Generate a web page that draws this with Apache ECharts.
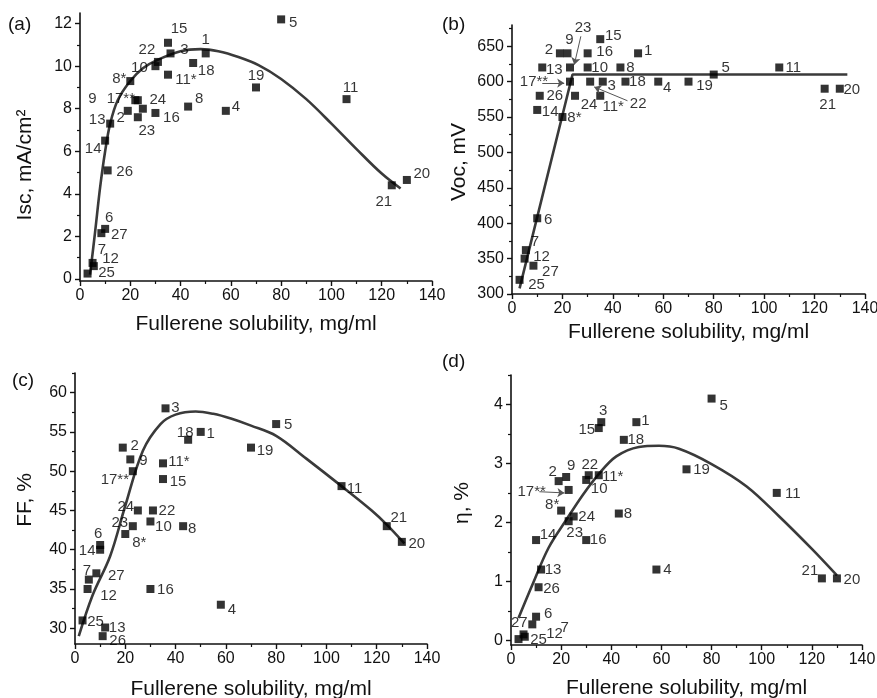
<!DOCTYPE html>
<html><head><meta charset="utf-8">
<script src="https://cdn.jsdelivr.net/npm/echarts@6/dist/echarts.min.js"></script>
<style>html,body{margin:0;padding:0;background:#fff}#c{width:877px;height:698px}</style>
</head><body><div id="c"></div>
<script>
// ---- data ----
const names = ['1','2','3','4','5','6','7','8','8*','9','10','11','11*','12','13','14','15','16','17**','18','19','20','21','22','23','24','25','26','27'];
const solubility = [50,19,36,58,80,10,5.5,43,20,22,30,106,35,5,12,10,35,30,23,45,70,130,124,31,23,25,3,11,8.5];
const isc = [10.6,7.9,10.6,7.9,12.2,2.35,0.6,8.1,9.3,8.4,10.0,8.45,9.6,0.75,7.3,6.5,11.1,7.8,8.4,10.15,9.0,4.65,4.4,10.2,7.6,8.0,0.25,5.1,2.15];
const voc = [640,640,600,600,610,407,362,620,550,640,620,620,580,350,620,560,660,640,600,600,600,590,590,600,620,580,320,580,340];
const ff = [55,53,58,33,56,40.6,36.2,43,42,51.5,43.6,48.1,51,35,30.1,40,49,35,50,54,53,41,43,45,43,45,31,29,37];
const eta = [3.7,2.7,3.7,1.2,4.1,0.4,0.06,2.15,2.2,2.77,2.72,2.5,2.8,0.1,1.2,1.7,3.6,1.7,2.55,3.4,2.9,1.05,1.05,2.8,2.02,2.1,0.02,0.9,0.27];

const fitAx = [4,6,8,10,12,15,20,25,30,40,48,55,63,71,80,90,100,110,120,127.5];
const fitAy = [0.2,2.2,4.3,6.0,7.3,8.4,9.3,9.9,10.25,10.7,10.8,10.7,10.43,10.05,9.4,8.45,7.3,6.1,4.95,4.25];
const fitBx = [3,24,133];
const fitBy = [308,610,610];
const fitCx = [1.5,7,14,20,27,34,40,48,55,62,70,80,92,106,118,124,131];
const fitCy = [29,34.2,39.2,45.6,52.6,56,57.2,57.6,57.3,56.7,55.8,54.5,51.6,48.1,45,43.2,40.8];
const fitDx = [3,8.7,15,22,28.7,35,42,51,59,67,80,94,107,120,130];
const fitDy = [0.38,0.96,1.57,2.04,2.47,2.82,3.12,3.28,3.3,3.25,2.99,2.61,2.1,1.55,1.1];

const xTicks = [0,20,40,60,80,100,120,140];
const xMinor = [10,30,50,70,90,110,130];
const yTicksA = [0,2,4,6,8,10,12];
const yMinorA = [1,3,5,7,9,11];
const yTicksB = [300,350,400,450,500,550,600,650];
const yMinorB = [325,375,425,475,525,575,625,675];
const yTicksC = [30,35,40,45,50,55,60];
const yMinorC = [32.5,37.5,42.5,47.5,52.5,57.5,62.5];
const yTicksD = [0,1,2,3,4];
const yMinorD = [0.5,1.5,2.5,3.5,4.5];

const xTitle = 'Fullerene solubility, mg/ml';
const yTitles = ['Isc, mA/cm\u00b2', 'Voc, mV', 'FF, %', '\u03b7, %'];
const letters = ['(a)', '(b)', '(c)', '(d)'];

// annotation arrows (data coords): [from, to]
const arrowsB = [[[12,598],[20.7,598]],[[27.3,664],[24.7,624]],[[45.8,573],[32.6,592.5]]];
const arrowsD = [[[11.3,2.52],[21.3,2.5]]];

// ---- label placement (style) ----
const offA = {'1':[0,-14],'2':[-7,7],'3':[14,-4],'4':[10,-4],'5':[12,3],'6':[4,-11],'7':[8,-16],'8':[11,-8],'8*':[-11,-2],'9':[-43,-1],'10':[-16,2],'11':[4,-11],'11*':[18,5],'12':[18,-4],'13':[-13,-4],'14':[-12,8],'15':[11,-14],'16':[16,5],'17**':[-17,-1],'18':[13,8],'19':[0,-12],'20':[15,-6],'21':[-8,17],'22':[-11,-12],'23':[9,14],'24':[15,-9],'25':[19,-1],'26':[17,1],'27':[18,2]};
const offB = {'1':[10,-2],'2':[-11,-3],'3':[9,4],'4':[9,6],'5':[12,-7],'6':[11,2],'7':[9,-8],'8':[10,0],'8*':[12,1],'9':[2,-13],'10':[12,0],'11':[14,0],'11*':[13,11],'12':[17,-2],'13':[12,2],'14':[13,2],'15':[13,-3],'16':[17,-1],'17**':[-36,0],'18':[12,0],'19':[16,4],'20':[12,1],'21':[3,16],'22':[48,22],'23':[13,-40],'24':[14,9],'25':[17,5],'26':[15,0],'27':[17,6]};
const offC = {'1':[10,2],'2':[12,-2],'3':[10,0],'4':[11,5],'5':[12,1],'6':[-2,-11],'7':[-2,-9],'8':[9,3],'8*':[14,9],'9':[13,1],'10':[13,5],'11':[13,3],'11*':[16,-1],'12':[21,7],'13':[12,0],'14':[-13,1],'15':[15,3],'16':[15,1],'17**':[-18,9],'18':[-3,-7],'19':[14,3],'20':[15,2],'21':[12,-8],'22':[14,0],'23':[-13,-3],'24':[-12,-4],'25':[13,1],'26':[15,5],'27':[20,3]};
const offD = {'1':[9,-1],'2':[-6,-9],'3':[2,-11],'4':[11,0],'5':[12,7],'6':[12,-3],'7':[40,-9],'8':[9,0],'8*':[-9,-6],'9':[5,-11],'10':[13,9],'11':[16,1],'11*':[14,2],'12':[31,-1],'13':[12,0],'14':[12,-5],'15':[-12,2],'16':[12,0],'17**':[-37,2],'18':[12,0],'19':[15,1],'20':[15,1],'21':[-12,-8],'22':[1,-10],'23':[6,12],'24':[13,0],'25':[20,1],'26':[13,2],'27':[-13,-2]};

const FONT = '"Liberation Sans", Arial, sans-serif';

const panels = [
  {grid:{left:80,top:13,width:352,height:268}, ys:isc, yMin:-0.1, yMax:12.5, yT:yTicksA, yM:yMinorA, fx:fitAx, fy:fitAy, smooth:true, off:offA, xGap:33, yTitlePos:[25,165], lx:8, ly:15, arrows:[]},
  {grid:{left:512,top:25,width:353,height:269}, ys:voc, yMin:300, yMax:680, yT:yTicksB, yM:yMinorB, fx:fitBx, fy:fitBy, smooth:false, off:offB, xGap:28, yTitlePos:[459,162], lx:442, ly:15, arrows:arrowsB},
  {grid:{left:75,top:373,width:352,height:271}, ys:ff, yMin:28, yMax:62.5, yT:yTicksC, yM:yMinorC, fx:fitCx, fy:fitCy, smooth:true, off:offC, xGap:35, yTitlePos:[25,500], lx:12, ly:371, arrows:[]},
  {grid:{left:511,top:375,width:351,height:270}, ys:eta, yMin:-0.08, yMax:4.5, yT:yTicksD, yM:yMinorD, fx:fitDx, fy:fitDy, smooth:true, off:offD, xGap:33, yTitlePos:[462,503], lx:442, ly:352, arrows:arrowsD}
];

const grids=[], xAxes=[], yAxes=[], series=[], graphics=[];
panels.forEach((p,i)=>{
  grids.push(Object.assign({outerBoundsMode:'none', containLabel:false}, p.grid));
  const lab = {color:'#111', fontFamily:FONT, fontSize:16};
  xAxes.push({type:'value', gridIndex:i, min:0, max:140, position:'bottom',
    name:xTitle, nameLocation:'middle', nameGap:p.xGap,
    nameTextStyle:{color:'#111', fontFamily:FONT, fontSize:21},
    axisLine:{show:true, onZero:false, lineStyle:{color:'#111', width:1.6}},
    axisTick:{show:true, inside:false, length:5, lineStyle:{color:'#111',width:1.4}, customValues:xTicks},
    axisLabel:Object.assign({margin:7, customValues:xTicks}, lab),
    splitLine:{show:false}});
  xAxes.push({type:'value', gridIndex:i, min:0, max:140, position:'bottom',
    axisLine:{show:false, onZero:false}, axisTick:{show:true, inside:false, length:3, lineStyle:{color:'#111',width:1.2}, customValues:xMinor},
    axisLabel:{show:false}, splitLine:{show:false}});
  yAxes.push({type:'value', gridIndex:i, min:p.yMin, max:p.yMax, position:'left',
    axisLine:{show:true, onZero:false, lineStyle:{color:'#111', width:1.6}},
    axisTick:{show:true, inside:false, length:5, lineStyle:{color:'#111',width:1.4}, customValues:p.yT},
    axisLabel:Object.assign({margin:8, customValues:p.yT}, lab),
    splitLine:{show:false}});
  yAxes.push({type:'value', gridIndex:i, min:p.yMin, max:p.yMax, position:'left',
    axisLine:{show:false, onZero:false}, axisTick:{show:true, inside:false, length:3, lineStyle:{color:'#111',width:1.2}, customValues:p.yM},
    axisLabel:{show:false}, splitLine:{show:false}});

  series.push({type:'line', xAxisIndex:2*i, yAxisIndex:2*i, data:p.fx.map((x,k)=>[x,p.fy[k]]),
    smooth:p.smooth?0.35:false, showSymbol:false, symbol:'none', silent:true,
    lineStyle:{color:'#3a3a3a', width:2.6}, z:2});
  const sc = {type:'scatter', xAxisIndex:2*i, yAxisIndex:2*i, symbol:'rect', symbolSize:8,
    itemStyle:{color:'#000'}, z:3,
    label:{show:true, position:'inside', formatter:'{b}', color:'#000', fontFamily:FONT, fontSize:15, textBorderWidth:0},
    data:names.map((n,k)=>({name:n, value:[solubility[k], p.ys[k]], label:{offset:p.off[n]||[12,0]}}))};
  if(p.arrows.length){
    sc.markLine = {silent:true, symbol:['none','arrow'], symbolSize:7, label:{show:false},
      lineStyle:{color:'#555', width:1, type:'solid'}, animation:false,
      data:p.arrows.map(a=>[{coord:a[0]},{coord:a[1]}])};
  }
  series.push(sc);
  graphics.push({type:'text', left:p.lx, top:p.ly, style:{text:letters[i], fill:'#111', font:'19px '+FONT}});
  graphics.push({type:'text', x:p.yTitlePos[0], y:p.yTitlePos[1], rotation:Math.PI/2,
    style:{text:yTitles[i], fill:'#111', font:'21px '+FONT, textAlign:'center', textVerticalAlign:'middle'}});
});

const chart = echarts.init(document.getElementById('c'));
chart.setOption({animation:false, backgroundColor:'#fff', grid:grids, xAxis:xAxes, yAxis:yAxes, series:series, graphic:graphics});
</script></body></html>
